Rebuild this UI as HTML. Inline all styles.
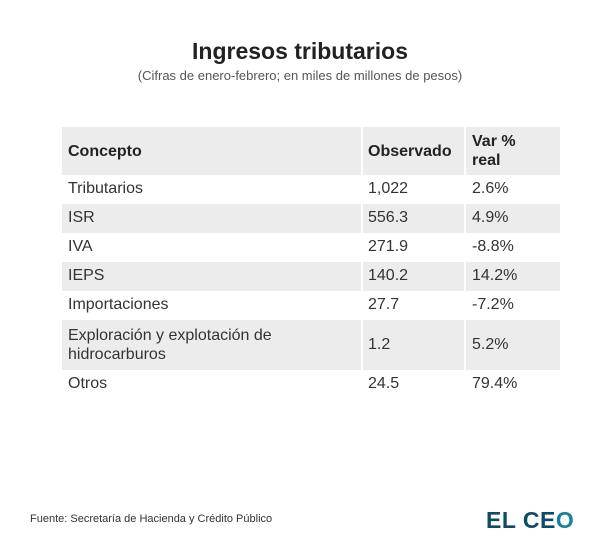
<!DOCTYPE html>
<html><head><meta charset="utf-8"><style>
body{margin:0;width:600px;height:550px;background:#fff;font-family:"Liberation Sans",sans-serif;position:relative;overflow:hidden;color:#222}
.a{position:absolute}
.row{position:absolute;left:62px;width:498px}
.g{background:#ececec}
.c{position:absolute;font-size:16px;color:#333}
.sep{position:absolute;top:127px;width:2px;height:271px;background:#fff}
</style></head><body>
<div class="a" style="left:0;width:600px;top:38px;text-align:center;font-size:23px;font-weight:bold;color:#222">Ingresos tributarios</div>
<div class="a" style="left:0;width:600px;top:68px;text-align:center;font-size:13px;color:#555">(Cifras de enero-febrero; en miles de millones de pesos)</div>

<div class="row g" style="top:127px;height:48px"></div>
<div class="row g" style="top:204px;height:29px"></div>
<div class="row g" style="top:262px;height:29px"></div>
<div class="row g" style="top:320px;height:50px"></div>
<div class="sep" style="left:361px"></div>
<div class="sep" style="left:464px"></div>

<div class="c" style="left:68px;top:143px;font-weight:bold;color:#222">Concepto</div>
<div class="c" style="left:368px;top:143px;font-weight:bold;color:#222">Observado</div>
<div class="c" style="left:472px;top:132px;font-weight:bold;color:#222;line-height:19px">Var %<br>real</div>

<div class="c" style="left:68px;top:180px">Tributarios</div><div class="c" style="left:368px;top:180px">1,022</div><div class="c" style="left:472px;top:180px">2.6%</div>
<div class="c" style="left:68px;top:209px">ISR</div><div class="c" style="left:368px;top:209px">556.3</div><div class="c" style="left:472px;top:209px">4.9%</div>
<div class="c" style="left:68px;top:238px">IVA</div><div class="c" style="left:368px;top:238px">271.9</div><div class="c" style="left:472px;top:238px">-8.8%</div>
<div class="c" style="left:68px;top:267px">IEPS</div><div class="c" style="left:368px;top:267px">140.2</div><div class="c" style="left:472px;top:267px">14.2%</div>
<div class="c" style="left:68px;top:296px">Importaciones</div><div class="c" style="left:368px;top:296px">27.7</div><div class="c" style="left:472px;top:296px">-7.2%</div>
<div class="c" style="left:68px;top:326px;line-height:19px">Exploración y explotación de<br>hidrocarburos</div><div class="c" style="left:368px;top:336px">1.2</div><div class="c" style="left:472px;top:336px">5.2%</div>
<div class="c" style="left:68px;top:375px">Otros</div><div class="c" style="left:368px;top:375px">24.5</div><div class="c" style="left:472px;top:375px">79.4%</div>

<div class="a" style="left:30px;top:513px;font-size:11px;color:#333">Fuente: Secretaría de Hacienda y Crédito Público</div>
<div class="a" style="left:486px;top:507px;font-size:23px;font-weight:bold;color:#0f4c63;letter-spacing:0.5px">EL CE<span style="color:#14839a">O</span></div>
</body></html>
